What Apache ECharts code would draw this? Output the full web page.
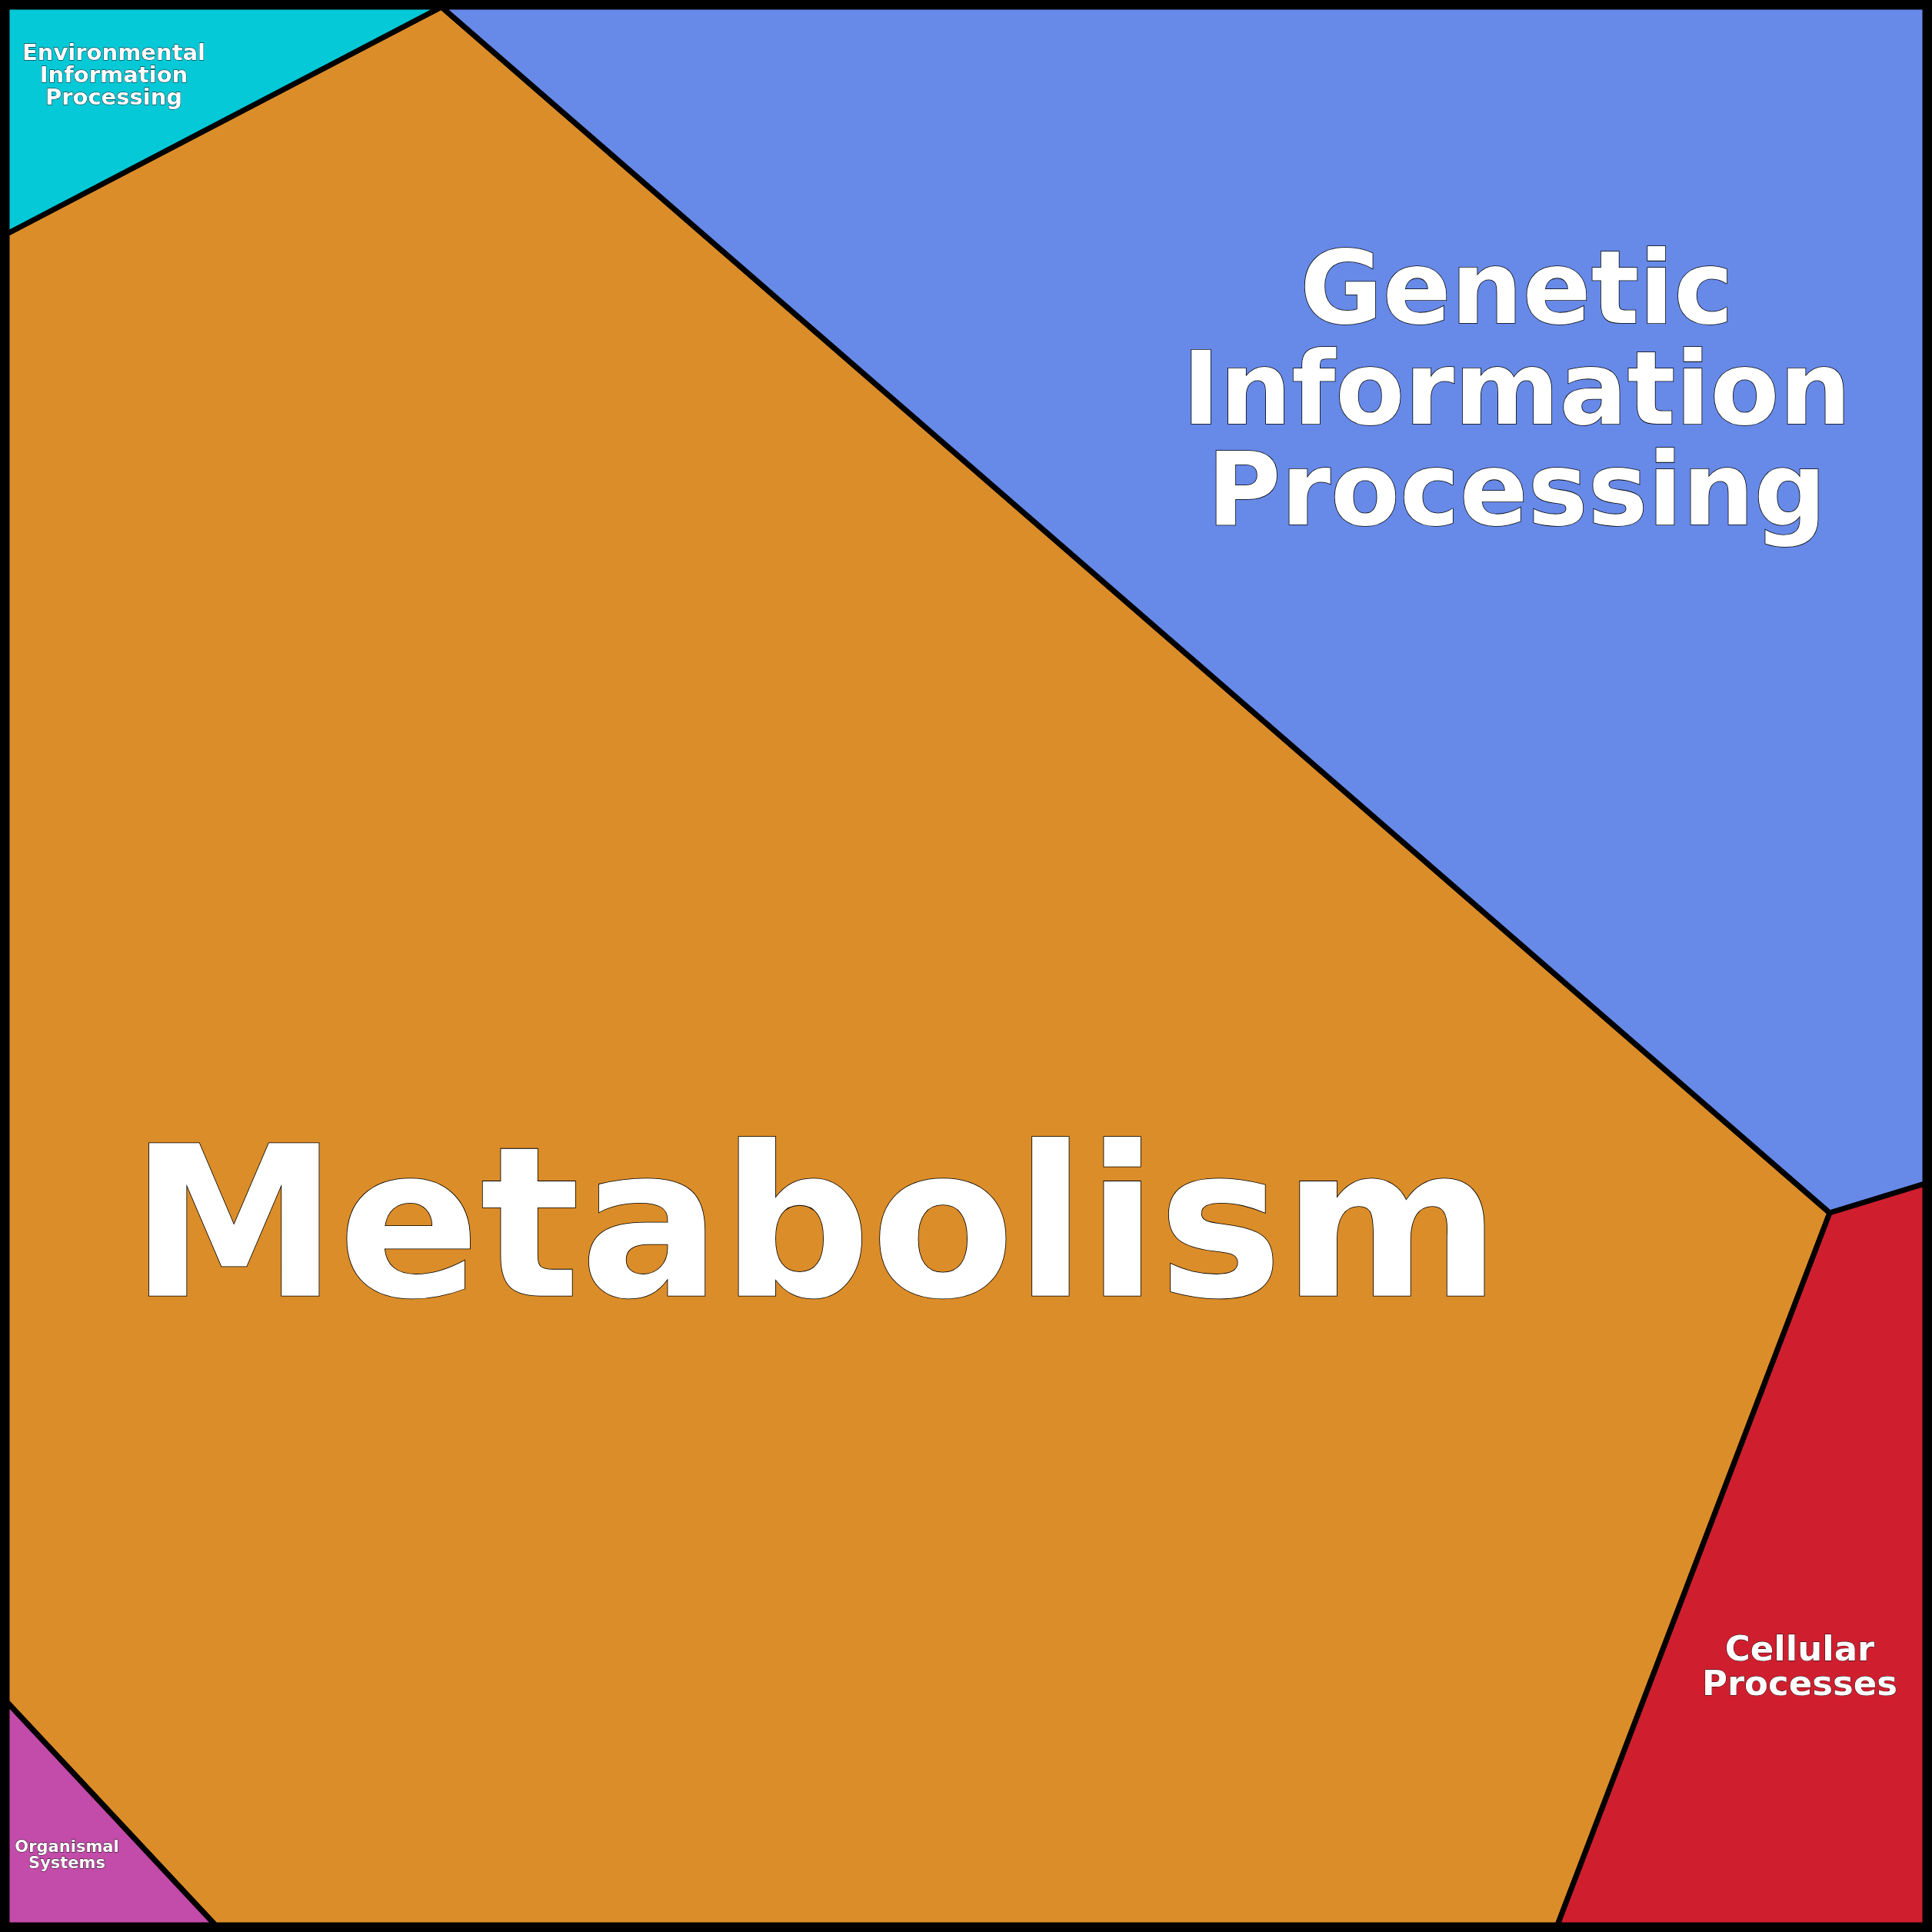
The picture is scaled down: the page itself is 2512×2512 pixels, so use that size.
<!DOCTYPE html>
<html>
<head>
<meta charset="utf-8">
<script src="https://cdn.jsdelivr.net/npm/echarts@6/dist/echarts.min.js"></script>
<style>html,body{margin:0;padding:0;background:#fff}#c{width:2512px;height:2512px}</style>
</head>
<body>
<div id="c"></div>
<script>
// ---- data (Voronoi treemap cells, in a 0..2512 unit domain) ----
const categories = ['Metabolism', 'Genetic Information Processing', 'Cellular Processes', 'Environmental Information Processing', 'Organismal Systems'];
const labelLines = [['Metabolism'], ['Genetic', 'Information', 'Processing'], ['Cellular', 'Processes'], ['Environmental', 'Information', 'Processing'], ['Organismal', 'Systems']];
const cellMetabolism = [[9, 304], [574, 9], [2379, 1577], [2025, 2503], [280, 2503], [9, 2213]];
const cellGenetic = [[574, 9], [2503, 9], [2503, 1539], [2379, 1577]];
const cellCellular = [[2379, 1577], [2503, 1539], [2503, 2503], [2025, 2503]];
const cellEnvironmental = [[9, 9], [574, 9], [9, 304]];
const cellOrganismal = [[9, 2213], [280, 2503], [9, 2503]];
const labelAnchors = [[1060, 1614], [1972, 517], [2340, 2170], [148, 99], [87, 2413]];
const domainMax = 2512;

// ---- styles ----
const cells = [cellMetabolism, cellGenetic, cellCellular, cellEnvironmental, cellOrganismal];
const colors = ['#DB8D29', '#678AE8', '#CF1F2F', '#05C9D7', '#C34BA9'];
const fontSizes = [272, 131, 45, 29, 21];

const chart = echarts.init(document.getElementById('c'), null, {renderer: 'canvas'});
const idx = categories.map((c, i) => ({name: c, value: [i]}));

chart.setOption({
  animation: false,
  backgroundColor: '#ffffff',
  grid: {left: 0, right: 0, top: 0, bottom: 0},
  xAxis: {type: 'value', min: 0, max: domainMax, show: false},
  yAxis: {type: 'value', min: 0, max: domainMax, inverse: true, show: false},
  series: [
    {
      type: 'custom',
      coordinateSystem: 'cartesian2d',
      data: idx,
      clip: false,
      z: 1,
      renderItem: function (params, api) {
        const i = params.dataIndex;
        const pts = cells[i].map(p => api.coord(p));
        return {
          type: 'polygon',
          shape: {points: pts},
          style: {fill: colors[i], stroke: '#000', lineWidth: 7, lineJoin: 'miter'}
        };
      }
    },
    {
      type: 'custom',
      coordinateSystem: 'cartesian2d',
      data: [{name: 'frame', value: [0]}],
      clip: false,
      z: 2,
      renderItem: function (params, api) {
        const p0 = api.coord([0, 0]);
        const p1 = api.coord([domainMax, domainMax]);
        return {
          type: 'rect',
          shape: {x: p0[0], y: p0[1], width: p1[0] - p0[0], height: p1[1] - p0[1]},
          style: {fill: 'none', stroke: '#000', lineWidth: 24}
        };
      }
    },
    {
      type: 'custom',
      coordinateSystem: 'cartesian2d',
      data: idx,
      clip: false,
      z: 3,
      renderItem: function (params, api) {
        const i = params.dataIndex;
        const a = api.coord(labelAnchors[i]);
        const fs = fontSizes[i];
        const lw = fs > 100 ? 1.6 : 0.8;
        return {
          type: 'text',
          x: a[0],
          y: a[1],
          style: {
            text: labelLines[i].join('\n'),
            fontFamily: '"DejaVu Sans"',
            fontWeight: 'bold',
            fontSize: fs,
            lineHeight: fs,
            align: 'center',
            verticalAlign: 'middle',
            fill: '#ffffff',
            stroke: '#000000',
            lineWidth: lw,
            textShadowColor: 'rgba(0,0,0,0.85)',
            textShadowOffsetX: fs > 100 ? 2 : 1,
            textShadowOffsetY: fs > 100 ? 2 : 1,
            textShadowBlur: 0
          }
        };
      }
    }
  ]
});
</script>
</body>
</html>
